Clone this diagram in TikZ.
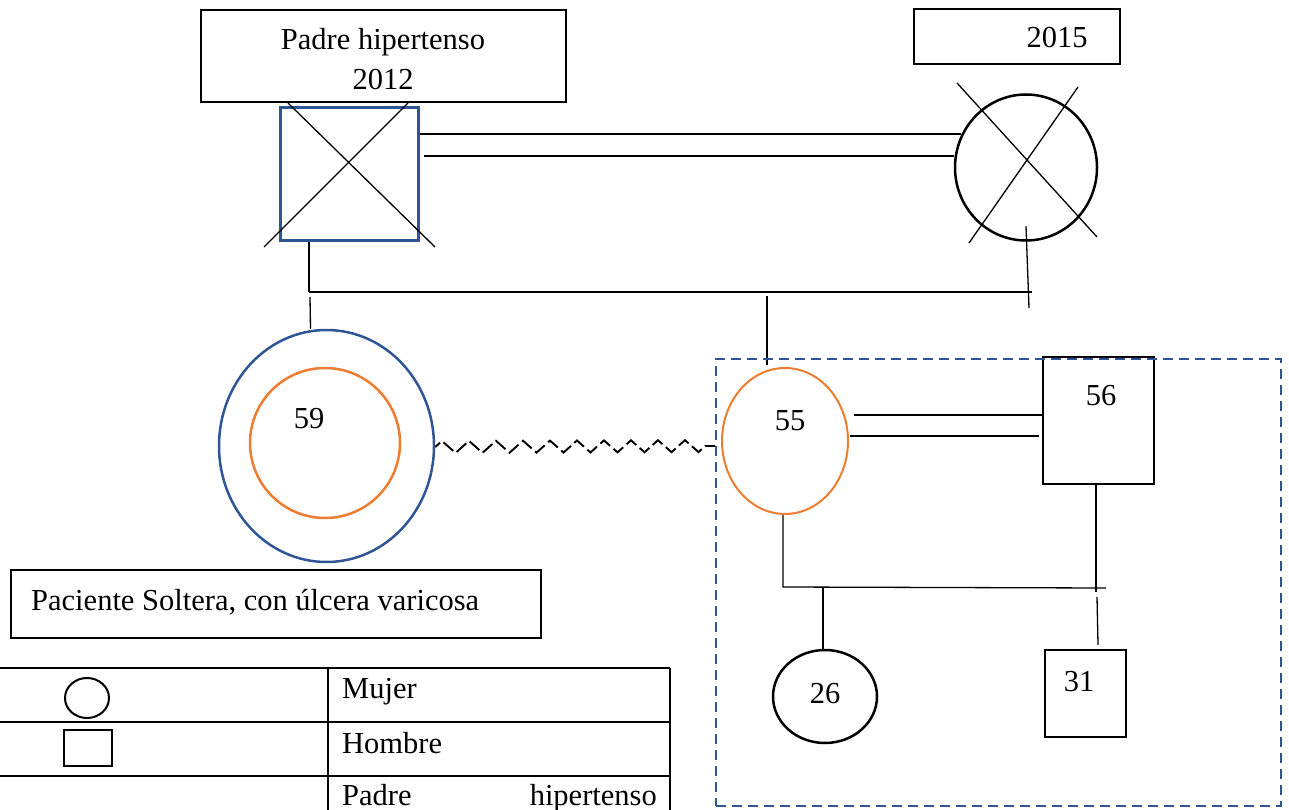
\documentclass[tikz,border=0pt]{standalone}
\usepackage{fontspec}
\setmainfont{Liberation Serif}
\usetikzlibrary{shapes.geometric,decorations.pathmorphing}
\definecolor{pblue}{HTML}{2F5597}
\definecolor{porange}{HTML}{ED7D31}
\tikzset{
  thin line/.style={line width=1.3pt},
  labelbox/.style={draw,line width=1.3pt,rectangle,inner sep=0pt},
  person/.style={draw,line width=2.5pt,inner sep=0pt},
  txt/.style={inner sep=0pt,font=\fontsize{30.5}{40}\selectfont},
}
\begin{document}
\begin{tikzpicture}[x=1pt,y=-1pt]
\useasboundingbox (0,0) rectangle (1289,810);
% label boxes
\node[labelbox,minimum width=365,minimum height=92] (lblF) at (383.5,56) {};
\node[txt,align=center] (lblFt) at (383,59) {Padre hipertenso\\2012};
\node[labelbox,minimum width=206,minimum height=55] (lblM) at (1017,36.5) {};
\node[txt] (lblMt) at (1057,38) {2015};
% father and mother
\node[person,draw=pblue,line width=3pt,rectangle,minimum width=138,minimum height=133] (F) at (349,174.5) {};
\draw[thin line] (288,103) -- (435,247) (408,103) -- (264,247);
\node[person,ellipse,minimum width=142,minimum height=146] (M) at (1026,167.5) {};
\draw[thin line] (957,83) -- (1097,237) (1078,87) -- (969,243);
% marriage double line
\draw[thin line] ([yshift=40.5]F.east) -- ([yshift=40.5]F.east -| M.154);
\draw[thin line] ([xshift=4,yshift=18.5]F.east) -- ([yshift=18.5]F.east -| M.173);
% sibship
\coordinate (jL) at (309,292);
\coordinate (jR) at (1032,292);
\draw[thin line] ([xshift=-40]F.south) -- (jL);
\draw[thin line] (jL) -- (jR);
\draw[thin line] ([yshift=15.5]M.south) -- (1029,308);
% patient
\node[person,draw=pblue,ellipse,minimum width=215,minimum height=232] (P) at (326.5,446) {};
\node[person,draw=porange,circle,minimum size=150] (Pi) at (325,443) {};
\node[txt] (Pt) at (309,419) {59};
\draw[thin line] (310,297) -- ([xshift=-16]P.north);
% sister
\node[person,draw=porange,line width=2pt,ellipse,minimum width=126,minimum height=146] (S) at (785,441) {};
\node[txt] (St) at (790,421) {55};
\draw[thin line] (767,296) -- ([xshift=-18,yshift=2]S.north);
% zigzag
\draw[line width=1.9pt,decorate,decoration={zigzag,segment length=27,amplitude=6},
  dash pattern=on 13pt off 4.5pt,dash phase=6.5pt]
  ([yshift=-1]P.east) -- ([xshift=-6,yshift=-5]S.west);
% husband
\node[person,rectangle,minimum width=111,minimum height=127] (H) at (1098.5,420.5) {};
\node[txt] (Ht) at (1101,396) {56};
\draw[thin line] ([xshift=5,yshift=26]S.east) -- ([yshift=5.5]H.west);
\draw[thin line] ([xshift=1,yshift=5]S.east) -- ([xshift=-3,yshift=5]S.east -| H.west);
% children
\coordinate (cL) at (783,587);
\coordinate (cR) at (1106,588);
\draw[thin line] ([xshift=-2]S.south) -- (cL) -- (cR);
\draw[thin line] ([xshift=-2.5]H.south) -- (1096,592);
\node[person,ellipse,minimum width=104,minimum height=93] (D) at (825,696.5) {};
\node[txt] (Dt) at (825,694) {26};
\node[person,rectangle,minimum width=81,minimum height=87] (B) at (1085.5,693.5) {};
\node[txt] (Bt) at (1079,682) {31};
\draw[thin line] (823,588) -- ([xshift=-2]D.north);
\draw[thin line] (1097,597) -- ([xshift=12.5,yshift=4]B.north);
% household dashed box
\node[draw=pblue,line width=2.3pt,dash pattern=on 10pt off 6pt,rectangle,minimum width=565,minimum height=447,inner sep=0pt] (grp) at (998.5,582.5) {};
% patient label
\node[labelbox,minimum width=530,minimum height=68] (pl) at (276,604) {};
\node[txt,anchor=base west] (plt) at (31,610) {Paciente Soltera, con úlcera varicosa};
% legend
\draw[thin line] (0,668) -- (670,668) (0,722) -- (670,722) (0,776) -- (670,776);
\draw[thin line] (328,668) -- (328,810) (670,668) -- (670,810);
\node[draw,line width=2pt,ellipse,minimum width=44,minimum height=40,inner sep=0pt] (lgC) at (87,698) {};
\node[draw,line width=2pt,rectangle,minimum width=48,minimum height=36,inner sep=0pt] (lgS) at (88,748) {};
\node[txt,anchor=base west] (lg1) at (342,698) {Mujer};
\node[txt,anchor=base west] (lg2) at (342,753) {Hombre};
\node[txt,anchor=base west] (lg3a) at (342,805) {Padre};
\node[txt,anchor=base east] (lg3b) at (657,805) {hipertenso};
\end{tikzpicture}
\end{document}
